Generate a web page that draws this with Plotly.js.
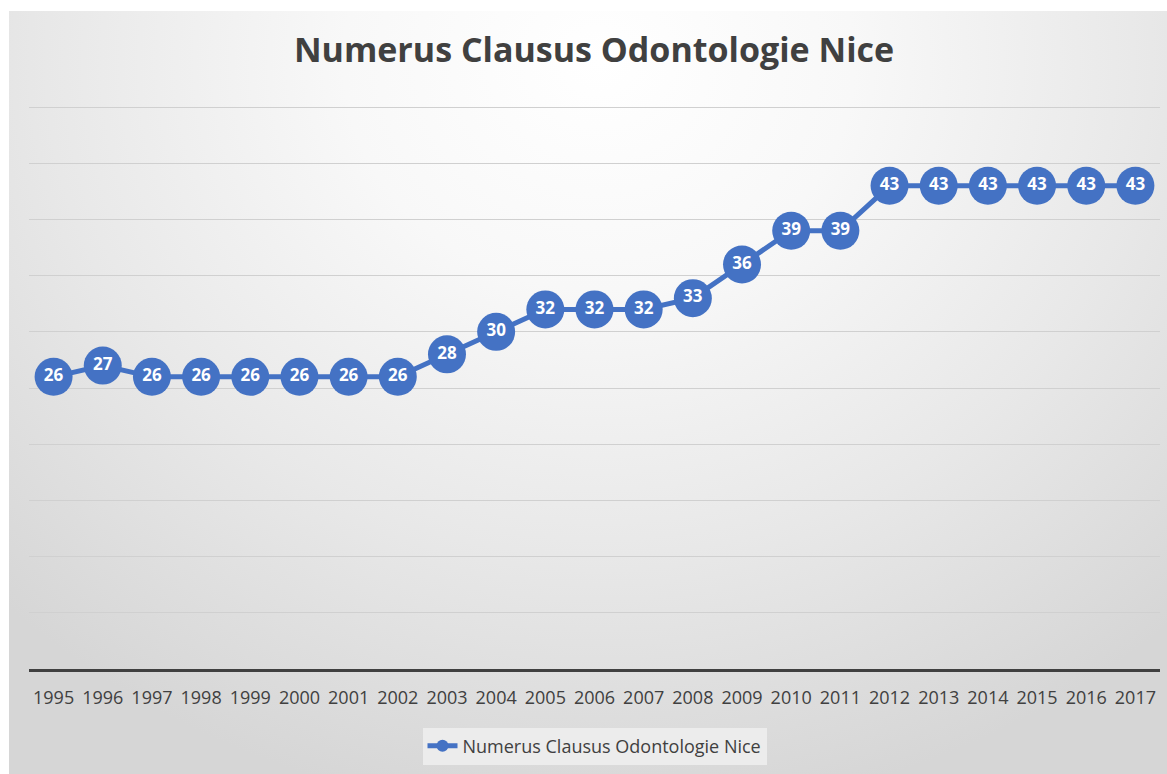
<!DOCTYPE html>
<html>
<head>
<meta charset="utf-8">
<script src="https://cdn.plot.ly/plotly-3.0.1.min.js"></script>
<style>
  html, body { margin:0; padding:0; width:1167px; height:774px; background:#ffffff; overflow:hidden; }
  #bg { position:absolute; left:9px; top:11px; width:1158px; height:763px;
        background: radial-gradient(ellipse 850px 760px at 590px 50px, #ffffff 0%, #f8f8f8 30%, #e8e8e8 65%, #d6d6d6 100%); }
  #chart { position:absolute; left:0; top:0; width:1167px; height:774px; }
</style>
</head>
<body>
<div id="bg"></div>
<div id="chart"></div>
<script>
const years = ["1995","1996","1997","1998","1999","2000","2001","2002","2003","2004","2005","2006","2007","2008","2009","2010","2011","2012","2013","2014","2015","2016","2017"];
const values = [26,27,26,26,26,26,26,26,28,30,32,32,32,33,36,39,39,43,43,43,43,43,43];
const seriesName = "Numerus Clausus Odontologie Nice";
const chartTitle = "Numerus Clausus Odontologie Nice";

const blue = "#4472C4";
const font = "Open Sans, Lato, sans-serif";

const trace = {
  x: years, y: values, type: "scatter", mode: "lines+markers+text",
  name: seriesName,
  line: { color: blue, width: 5 },
  marker: { color: blue, size: 38, line: { width: 0 } },
  text: values.map(String),
  textposition: "middle center",
  textfont: { color: "#ffffff", size: 17, family: font, weight: "bold" },
  hoverinfo: "x+y"
};

const layout = {
  width: 1167, height: 774,
  margin: { l: 29, r: 7, t: 106, b: 105 },
  paper_bgcolor: "rgba(0,0,0,0)",
  plot_bgcolor: "rgba(0,0,0,0)",
  title: { text: chartTitle, x: 0.509, xanchor: "center", y: 0.935, yanchor: "middle",
           font: { family: font, size: 34, color: "#404040", weight: "bold" } },
  xaxis: { type: "category", range: [-0.5, 22.5], showgrid: false, showline: true,
           linecolor: "#404040", linewidth: 3, ticks: "outside", ticklen: 10, tickcolor: "rgba(0,0,0,0)",
           tickfont: { family: font, size: 18, color: "#404040" }, fixedrange: true },
  yaxis: { range: [0, 50.1], dtick: 5, showticklabels: false, showgrid: true, gridcolor: "#d0d0d0",
           gridwidth: 1, zeroline: false, showline: false, fixedrange: true },
  showlegend: true,
  legend: { orientation: "h", x: 0.5, xanchor: "center", y: -0.137, yanchor: "middle",
            bgcolor: "#ececec", font: { family: font, size: 18, color: "#404040" },
            itemsizing: "constant" }
};

Plotly.newPlot("chart", [trace], layout, { displayModeBar: false, staticPlot: true });
</script>
</body>
</html>
